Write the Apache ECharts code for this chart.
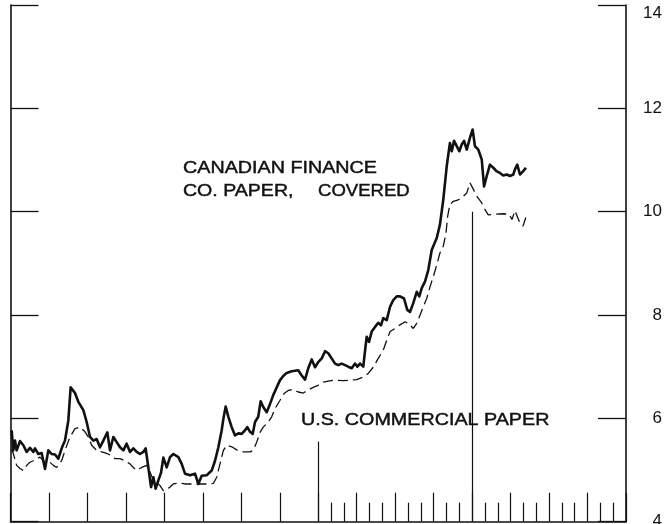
<!DOCTYPE html>
<html><head><meta charset="utf-8">
<script src="https://cdn.jsdelivr.net/npm/echarts@6/dist/echarts.min.js"></script>
<style>html,body{margin:0;padding:0;background:#fff}#c{width:665px;height:524px}</style>
</head><body><div id="c"></div>
<script>
// Time in months from the start of the chart (4 years, 48 months)
const canMonths = [0.09,0.22,0.35,0.48,0.74,1.00,1.26,1.52,1.78,1.91,2.17,2.43,2.69,2.95,3.21,3.47,3.73,3.99,4.25,4.51,4.69,5.03,5.29,5.68,5.94,6.20,6.46,6.72,6.98,7.24,7.55,7.76,8.02,8.28,8.54,8.80,9.06,9.32,9.58,9.84,10.10,10.36,10.54,10.75,10.96,11.14,11.32,11.53,11.74,11.92,12.18,12.44,12.70,13.09,13.35,13.61,14.00,14.39,14.65,14.91,15.30,15.69,15.95,16.21,16.47,16.60,16.78,16.99,17.25,17.51,17.77,18.03,18.29,18.47,18.68,18.89,19.07,19.32,19.51,19.71,19.98,20.24,20.49,20.76,21.02,21.27,21.54,21.93,22.19,22.44,22.71,22.97,23.22,23.49,23.75,24.00,24.27,24.53,24.78,25.05,25.31,25.56,25.83,26.09,26.34,26.61,26.87,27.05,27.26,27.51,27.70,27.78,27.96,28.17,28.43,28.68,28.89,29.07,29.34,29.60,29.85,30.12,30.38,30.69,30.94,31.16,31.41,31.68,31.88,32.07,32.33,32.58,32.85,32.97,33.24,33.49,33.75,34.02,34.14,34.27,34.41,34.59,34.80,35.00,35.19,35.37,35.58,35.83,36.04,36.22,36.48,36.75,36.93,37.14,37.39,37.65,37.92,38.17,38.43,38.70,38.95,39.21,39.34,39.52,39.73,39.97,40.20];
const canRates = [5.77,5.38,5.57,5.38,5.56,5.48,5.35,5.43,5.35,5.42,5.31,5.33,5.02,5.38,5.31,5.30,5.22,5.42,5.57,5.96,6.60,6.49,6.32,6.16,5.93,5.64,5.57,5.60,5.44,5.57,5.73,5.38,5.64,5.54,5.44,5.38,5.51,5.35,5.42,5.35,5.31,5.35,5.42,5.05,4.67,4.86,4.64,4.80,4.95,5.24,5.05,5.25,5.31,5.25,5.12,4.93,4.90,4.93,4.73,4.89,4.90,4.99,5.18,5.44,5.77,5.99,6.23,6.03,5.83,5.67,5.71,5.70,5.77,5.83,5.74,5.70,5.93,6.03,6.33,6.22,6.12,6.28,6.45,6.60,6.74,6.82,6.88,6.91,6.92,6.93,6.83,6.75,6.97,7.14,6.99,7.09,7.16,7.30,7.26,7.16,7.06,7.03,7.06,7.03,7.00,6.97,7.06,7.00,7.06,7.00,7.42,7.58,7.48,7.68,7.77,7.85,7.80,7.94,7.90,8.16,8.29,8.36,8.36,8.32,8.10,8.06,8.23,8.45,8.36,8.52,8.65,8.87,9.26,9.33,9.49,9.75,10.23,10.88,11.10,11.33,11.17,11.37,11.27,11.17,11.30,11.37,11.20,11.43,11.59,11.27,11.20,11.01,10.49,10.69,10.91,10.85,10.78,10.75,10.70,10.72,10.69,10.72,10.82,10.91,10.72,10.78,10.85];

const usMonths = [0.09,0.22,0.48,0.74,1.00,1.26,1.52,1.78,2.04,2.30,2.56,2.82,3.08,3.34,3.60,3.99,4.25,4.64,5.03,5.42,5.81,6.07,6.33,6.72,7.11,7.50,7.89,8.15,8.54,8.93,9.32,9.58,9.84,10.23,10.62,10.88,11.14,11.66,11.92,12.18,12.44,12.70,13.22,13.61,14.26,14.78,15.30,15.82,16.08,16.34,16.60,16.86,17.25,17.64,18.15,18.68,18.93,19.20,19.46,19.71,20.10,20.37,20.63,21.02,21.33,21.66,22.05,22.44,22.83,23.22,23.61,24.00,24.39,24.78,25.31,25.95,26.48,27.00,27.51,27.90,28.29,28.68,29.07,29.34,29.60,29.99,30.38,30.77,31.02,31.41,31.68,31.94,32.19,32.46,32.72,32.97,33.24,33.49,33.75,33.96,34.09,34.27,34.53,34.92,35.19,35.58,35.83,36.04,36.36,36.75,36.93,37.26,37.78,38.43,38.88,39.11,39.34,39.73,39.97,40.20];
const usRates = [5.40,5.32,5.09,5.03,4.99,5.09,5.15,5.18,5.22,5.25,5.18,5.13,5.15,5.09,5.05,5.18,5.38,5.64,5.80,5.83,5.74,5.64,5.48,5.38,5.35,5.32,5.28,5.22,5.22,5.18,5.12,5.05,4.99,5.05,5.09,4.96,4.80,4.70,4.60,4.62,4.67,4.73,4.75,4.73,4.73,4.73,4.73,4.74,4.86,5.12,5.38,5.48,5.45,5.39,5.35,5.35,5.38,5.54,5.73,5.83,5.93,6.03,6.19,6.35,6.48,6.54,6.56,6.51,6.49,6.55,6.60,6.64,6.70,6.72,6.74,6.73,6.74,6.75,6.80,6.87,6.99,7.16,7.32,7.51,7.68,7.74,7.81,7.87,7.84,7.74,7.84,8.00,8.16,8.32,8.55,8.74,8.97,9.20,9.33,9.58,9.91,10.14,10.20,10.23,10.27,10.36,10.56,10.46,10.30,10.17,10.07,9.94,9.95,9.96,9.95,9.85,10.02,9.78,9.72,9.90];

// Monthly ticks shown only over the last two years (quarter ticks come from the main axis)
const monthTicks = [25,26,28,29,31,32,34,35,37,38,40,41,43,44,46,47];
// Year divider lines: month and height (in %) to which they rise
const yearLineMonths = [24, 36];
const yearLineTops = [5.55, 10.0];
const yTickLabels = [4, 6, 8, 10, 12, 14];

const zip = (a, b) => a.map((x, i) => [x, b[i]]);
const FONT = '"Liberation Sans", Arial, Helvetica, sans-serif';
const INK = '#111';
const textStyle = (t) => ({text: t, fill: INK, stroke: INK, lineWidth: 0.45, font: '17px ' + FONT,
  align: 'left', verticalAlign: 'middle', textAlign: 'left', textVerticalAlign: 'middle'});

const chart = echarts.init(document.getElementById('c'), null, {renderer: 'canvas'});
chart.setOption({
  animation: false,
  backgroundColor: '#fff',
  grid: {left: 10.5, right: 39, top: 5, bottom: 2.3, containLabel: false, outerBoundsMode: 'none'},
  xAxis: [
    {type: 'value', min: 0, max: 48, interval: 3,
     axisLine: {show: true, onZero: false, lineStyle: {color: INK, width: 1.6}},
     axisTick: {show: true, inside: true, length: 29, lineStyle: {color: INK, width: 1.2}},
     axisLabel: {show: false}, splitLine: {show: false}},
    {type: 'value', min: 0, max: 48, position: 'bottom',
     axisLine: {show: false},
     axisTick: {show: true, inside: true, length: 19, customValues: monthTicks, lineStyle: {color: INK, width: 1.2}},
     axisLabel: {show: false}, splitLine: {show: false}}
  ],
  yAxis: [
    {type: 'value', position: 'right', min: 4, max: 14, interval: 2,
     axisLine: {show: true, onZero: false, lineStyle: {color: INK, width: 1.6}},
     axisTick: {show: true, inside: true, length: 28, lineStyle: {color: INK, width: 1.3}},
     axisLabel: {show: true, inside: false, margin: 36, align: 'right', verticalAlign: 'middle',
       color: INK, fontSize: 17, fontFamily: FONT,
       formatter: v => yTickLabels.includes(v) ? (v === 14 ? '{t|14}' : String(v)) : '',
       rich: {t: {padding: [16, 0, 0, 0], color: INK, fontSize: 17, fontFamily: FONT}}},
     splitLine: {show: false}},
    {type: 'value', position: 'left', min: 4, max: 14, interval: 2,
     axisLine: {show: true, onZero: false, lineStyle: {color: INK, width: 1.6}},
     axisTick: {show: true, inside: true, length: 28, lineStyle: {color: INK, width: 1.3}},
     axisLabel: {show: false}, splitLine: {show: false}}
  ],
  series: [
    {name: 'Canadian finance co. paper, covered', type: 'line', xAxisIndex: 0, yAxisIndex: 0,
     data: zip(canMonths, canRates), showSymbol: false, symbol: 'none',
     lineStyle: {color: INK, width: 2.6, join: 'round'}, z: 3},
    {name: 'U.S. commercial paper', type: 'line', xAxisIndex: 0, yAxisIndex: 0,
     data: zip(usMonths, usRates), showSymbol: false, symbol: 'none',
     lineStyle: {color: INK, width: 1.3, type: [10, 5]}, z: 2,
     markLine: {silent: true, symbol: 'none', label: {show: false},
       lineStyle: {color: INK, width: 1.2, type: 'solid'},
       data: yearLineMonths.map((m, i) => [{coord: [m, yearLineTops[i]]}, {coord: [m, 4]}])}}
  ],
  graphic: [
    {type: 'text', x: 183, y: 168, scaleX: 1.16, silent: true, style: textStyle('CANADIAN FINANCE')},
    {type: 'text', x: 183, y: 191, scaleX: 1.15, silent: true, style: textStyle('CO. PAPER,')},
    {type: 'text', x: 318, y: 191, scaleX: 1.09, silent: true, style: textStyle('COVERED')},
    {type: 'text', x: 301, y: 420, scaleX: 1.16, silent: true, style: textStyle('U.S. COMMERCIAL PAPER')}
  ]
});
</script></body></html>
